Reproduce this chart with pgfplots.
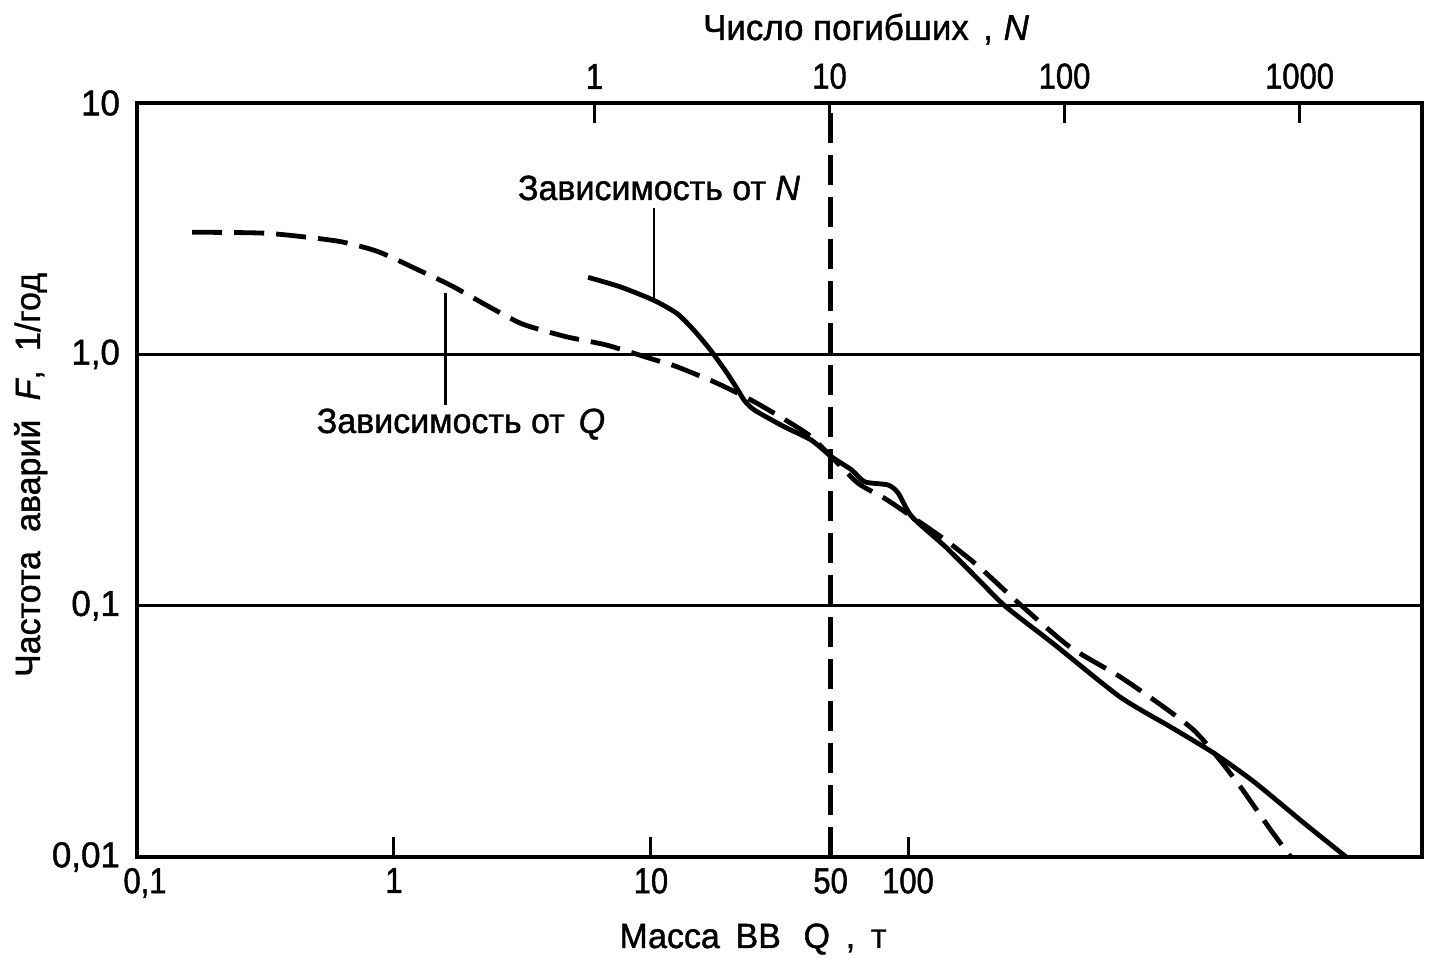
\documentclass[border=0pt]{standalone}
\usepackage{pgfplots}
\pgfplotsset{compat=1.18}
\usepackage{fontspec}
\setmainfont{Liberation Sans}[FakeStretch=0.86, FakeBold=1.2]
\newfontfamily\annfont{Liberation Sans}[FakeStretch=0.97, FakeBold=1.2]
\newcommand\f{\fontsize{18}{22}\selectfont}
\begin{document}
\begin{tikzpicture}[font=\f]
\begin{axis}[
  at={(0pt,0pt)}, anchor=south west,
  scale only axis, width=642.5pt, height=377pt,
  xmode=log, ymode=log,
  xmin=0.1, xmax=10000, ymin=0.01, ymax=10,
  axis line style={line width=2.2pt},
  xtick={0.1,1,10,50,100},
  xticklabels={{\hspace*{8pt}0,1},1,10,50,100},
  ytick={0.01,0.1,1,10},
  yticklabels={{0,01},{0,1},{1,0},10},
  xminorticks=false, yminorticks=false,
  xtick pos=bottom, ytick pos=left,
  tick align=inside,
  major tick length=10pt,
  xtick style={line width=1.5pt, black},
  ytick style={draw=none},
  ymajorgrids, grid style={black, line width=1.3pt},
  xticklabel style={font=\f, yshift=-2pt},
  yticklabel style={font=\annfont\fontsize{18}{22}\selectfont, xshift=-5pt},
  clip=false,
]
% vertical dashed line at Q = 50
\addplot[black, line width=2.2pt, dash pattern=on 15pt off 6pt] coordinates {(50,0.01) (50,10)};
% dependence on Q (dashed)
\addplot[black, line width=2.4pt, dash pattern=on 15pt off 6pt, smooth, tension=0.4] coordinates {
(0.164,3.06) (0.322,3.03) (0.605,2.82) (0.869,2.56) (1.246,2.165) (1.683,1.870)
(2.344,1.547) (3.16,1.320) (4.68,1.175) (6.71,1.089) (10.2,0.955) (12.6,0.893)
(18.1,0.767) (25.2,0.648) (35.1,0.531) (42.0,0.470) (50.3,0.392) (63.9,0.307)
(81.3,0.267) (103.5,0.226) (139.8,0.1825) (188.7,0.143) (270.6,0.102)
(424.9,0.0687) (667,0.0522) (986,0.0396) (1293,0.0320) (1595,0.0251)
(1968,0.0190) (2580,0.0128) (3090,0.0100)};
% dependence on N (solid)
\addplot[black, line width=2.4pt, smooth, tension=0.4] coordinates {
(5.69,2.025) (7.57,1.858) (10.2,1.645) (12.6,1.456) (14.66,1.25) (17.04,1.040)
(19.8,0.840) (22.0,0.710) (23.0,0.658) (25.2,0.601) (33.0,0.515) (42.0,0.456)
(50.3,0.392) (60.3,0.347) (67.9,0.311) (83.8,0.302) (91.7,0.280) (103.5,0.226)
(139.8,0.1716) (188.7,0.1265) (240,0.0991) (365.9,0.0709) (667,0.0434)
(1047,0.0330) (1549,0.0259) (2222,0.0199) (3487,0.0136) (5074,0.0100)};
% leader lines
\draw[black, line width=1.2pt] (axis cs:10.3,3.82) -- (axis cs:10.3,1.645);
\draw[black, line width=1.2pt] (axis cs:1.584,1.754) -- (axis cs:1.584,0.628);
\end{axis}
\begin{axis}[
  at={(0pt,0pt)}, anchor=south west,
  scale only axis, width=642.5pt, height=377pt,
  xmode=log, ymode=log,
  xmin=0.0113, xmax=3319, ymin=0.01, ymax=10,
  axis x line*=top, axis y line=none,
  axis line style={line width=2.2pt},
  xtick={1,10,100,1000},
  xticklabels={1,10,100,1000},
  xminorticks=false,
  tick align=inside,
  major tick length=10pt,
  xtick style={line width=1.5pt, black},
  xticklabel style={font=\f, yshift=3.5pt},
]
\end{axis}
\node[anchor=base, font=\annfont\fontsize{17.5}{21}\selectfont] at (261pt,328.5pt) {Зависимость от \textit{N}};
\node[anchor=base, font=\annfont\fontsize{17.5}{21}\selectfont] at (162pt,212pt) {Зависимость от\hspace{0.4em}\textit{Q}};
\node[anchor=base, font=\annfont\fontsize{17.5}{21}\selectfont] at (308pt,-45.5pt) {Масса\hspace{0.45em}ВВ\hspace{0.65em}Q\hspace{0.45em},\hspace{0.45em}т};
\node[anchor=base, font=\annfont\fontsize{18}{22}\selectfont] at (364.5pt,408.5pt) {Число погибших\hspace{0.4em},\hspace{0.3em}\textit{N}};
\node[anchor=base, rotate=90, font=\annfont\fontsize{17.5}{21}\selectfont] at (-48.5pt,191pt) {Частота\hspace{0.55em}аварий\hspace{0.55em}\textit{F},\hspace{0.55em}1/год};
\pgfresetboundingbox
\path (-68.5pt,-53pt) rectangle (655.5pt,428.5pt);
\end{tikzpicture}
\end{document}
